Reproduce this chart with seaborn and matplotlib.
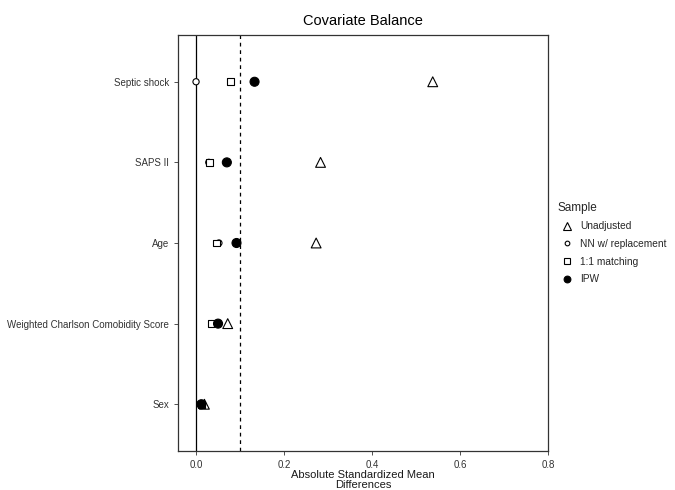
import matplotlib
matplotlib.use("Agg")
import matplotlib.pyplot as plt
import seaborn as sns
import pandas as pd

covariates = ["Sex", "Weighted Charlson Comobidity Score", "Age", "SAPS II", "Septic shock"]
samples = ["Unadjusted", "NN w/ replacement", "1:1 matching", "IPW"]
unadjusted = [0.019, 0.072, 0.273, 0.283, 0.538]
nn_repl = [0.010, 0.036, 0.052, 0.029, 0.000]
matching = [0.012, 0.034, 0.046, 0.031, 0.079]
ipw = [0.012, 0.050, 0.092, 0.070, 0.133]

rows = []
for name, vals in zip(samples, [unadjusted, nn_repl, matching, ipw]):
    for cov, v in zip(covariates, vals):
        rows.append({"Covariate": cov, "Sample": name, "Diff": v})
df = pd.DataFrame(rows)

sns.set_style("white")
plt.rcParams["font.family"] = ["Liberation Sans", "DejaVu Sans"]

fig = plt.figure(figsize=(6.75, 4.9), dpi=100)
ax = fig.add_axes([178/675, 39/490, 370/675, 416/490])

# force category order (Sex bottom ... Septic shock top)
ax.scatter(covariates, [0]*len(covariates), alpha=0)

ax.axvline(0, color="black", lw=0.9, zorder=1)
ax.axvline(0.1, color="black", lw=0.9, ls=(0, (3, 3)), zorder=1)

sns.scatterplot(
    data=df, x="Diff", y="Covariate", hue="Sample", style="Sample", size="Sample",
    hue_order=samples, style_order=samples, size_order=samples,
    palette={"Unadjusted": "white", "NN w/ replacement": "white", "1:1 matching": "white", "IPW": "black"},
    markers={"Unadjusted": "^", "NN w/ replacement": "o", "1:1 matching": "s", "IPW": "o"},
    sizes={"Unadjusted": 50, "NN w/ replacement": 20, "1:1 matching": 25, "IPW": 42},
    edgecolor="black", linewidth=0.8, ax=ax, zorder=3,
)

ax.set_xlim(-0.041, 0.8)
ax.set_ylim(-0.58, 4.58)
ax.set_xticks([0.0, 0.2, 0.4, 0.6, 0.8])
ax.set_xticklabels(["0.0", "0.2", "0.4", "0.6", "0.8"])
ax.tick_params(axis="both", labelsize=7, colors="#333333", length=3, width=0.6, direction="out")
ax.tick_params(axis="both", which="both", left=True, bottom=True)
for s in ax.spines.values():
    s.set_color("#333333")
    s.set_linewidth(0.9)
ax.set_ylabel("")
ax.set_xlabel("Absolute Standardized Mean\nDifferences", fontsize=8, color="#1a1a1a", labelpad=0, linespacing=1.0)
ax.set_title("Covariate Balance", fontsize=10.5, color="black", pad=7)

sns.move_legend(ax, "center left", bbox_to_anchor=(1.0, 0.5), frameon=False,
                title="Sample", fontsize=7.3, title_fontsize=8.5, handletextpad=0.3,
                labelspacing=0.75, alignment="left", markerscale=0.75)

fig.savefig("out.png", dpi=100)
